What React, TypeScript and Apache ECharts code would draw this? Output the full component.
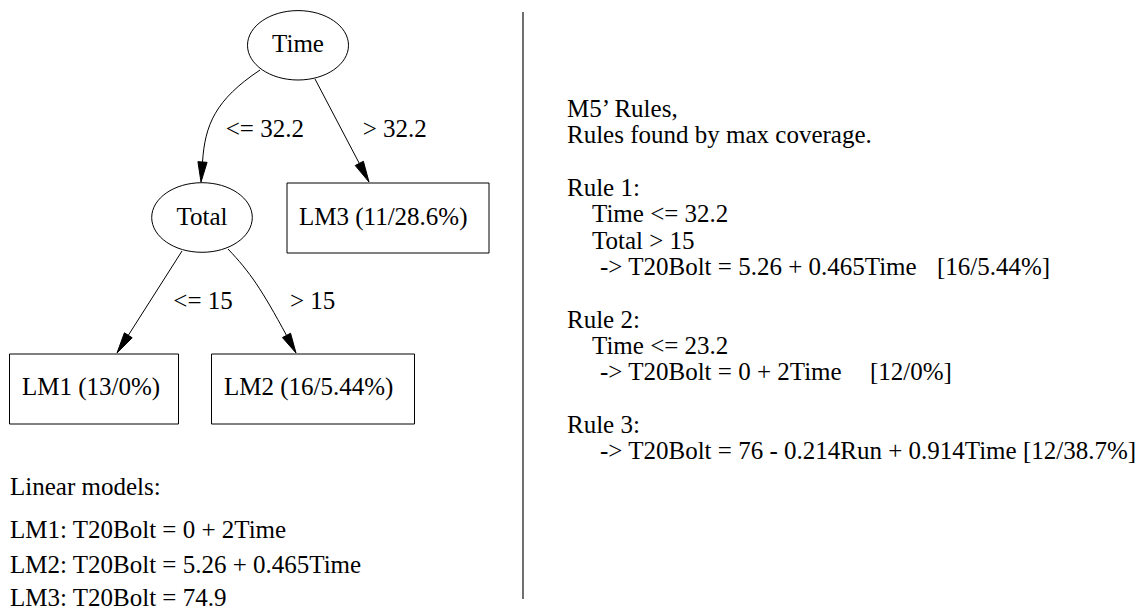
import React, { useEffect, useRef } from "react";
import * as echarts from "echarts";

// ---- content (text only) ----
const nodeLabels = ["Time", "Total", "LM3 (11/28.6%)", "LM1 (13/0%)", "LM2 (16/5.44%)"];
const nodeKinds = ["split", "split", "leaf", "leaf", "leaf"];
const edgeFrom = [0, 0, 1, 1];
const edgeTo = [1, 2, 3, 4];
const edgeLabels = ["<= 32.2", "> 32.2", "<= 15", "> 15"];
const linearModelsTitle = "Linear models:";
const linearModels = [
  "LM1: T20Bolt = 0 + 2Time",
  "LM2: T20Bolt = 5.26 + 0.465Time",
  "LM3: T20Bolt = 74.9",
];
const ruleLines = [
  "M5\u2019 Rules,",
  "Rules found by max coverage.",
  "",
  "Rule 1:",
  "Time <= 32.2",
  "Total > 15",
  "-> T20Bolt = 5.26 + 0.465Time",
  "",
  "Rule 2:",
  "Time <= 23.2",
  "-> T20Bolt = 0 + 2Time",
  "",
  "Rule 3:",
  "-> T20Bolt = 76 - 0.214Run + 0.914Time [12/38.7%]",
];
const ruleIndent = [0, 0, 0, 0, 1, 1, 2, 0, 0, 1, 2, 0, 0, 2];
const ruleTags = ["", "", "", "", "", "", "[16/5.44%]", "", "", "", "[12/0%]", "", "", ""];

// ---- layout (positions & sizes) ----
const FONT_SIZE = 25;
const FONT = `${FONT_SIZE}px "Liberation Serif", "Times New Roman", serif`;
const CENTRAL = 8.4; // baseline offset from central
const ellipseGeom = [
  { cx: 298, cy: 45.3, rx: 50.5, ry: 34.7 },
  { cx: 202, cy: 217.5, rx: 50.3, ry: 34.8 },
];
const nodeGeom = [
  { tx: 298, tb: 52, align: "center" },
  { tx: 202, tb: 225, align: "center" },
  { x: 287, y: 183, w: 202, h: 70, tx: 299, tb: 225, align: "left" },
  { x: 9.5, y: 354, w: 169, h: 70, tx: 22, tb: 395, align: "left" },
  { x: 211.5, y: 354, w: 203, h: 70, tx: 224, tb: 395, align: "left" },
];
// edge geometry: path points (line or cubic) ending at arrow base, then tip
const edgeGeom = [
  { pts: [[260, 70], [215, 100], [205, 125], [202.5, 162]], tip: [201, 182] },
  { pts: [[315, 79], [359.3, 163.4]], tip: [369, 182] },
  { pts: [[182, 251], [128.3, 335.3]], tip: [117, 353] },
  { pts: [[228, 249], [250, 272], [262, 290], [286.5, 335.4]], tip: [296, 353] },
];
const edgeLabelGeom = [
  { x: 225.7, b: 137 },
  { x: 362.7, b: 137 },
  { x: 173.3, b: 309 },
  { x: 290, b: 309 },
];
const lmTitleGeom = { x: 10, b: 495 };
const lmBaselines = [538, 573, 606];
const ruleStartBaseline = 117;
const ruleStep = 26.3;
const ruleIndentX = [567, 592, 600];
const ruleTagX = [0, 0, 0, 0, 0, 0, 937, 0, 0, 0, 870, 0, 0, 0];
const divider = { x: 523, y1: 12, y2: 599 };

function txt(text: string, x: number, baseline: number, align = "left") {
  return {
    type: "text",
    x,
    y: baseline - CENTRAL,
    silent: true,
    style: {
      text,
      font: FONT,
      fill: "#000",
      textAlign: align,
      textVerticalAlign: "middle",
    },
  };
}

function arrowHead(base: number[], tip: number[]) {
  const dx = tip[0] - base[0];
  const dy = tip[1] - base[1];
  const len = Math.hypot(dx, dy) || 1;
  const nx = -dy / len;
  const ny = dx / len;
  const hw = 4.6;
  return {
    type: "polygon",
    silent: true,
    shape: {
      points: [
        [tip[0], tip[1]],
        [base[0] + nx * hw, base[1] + ny * hw],
        [base[0] - nx * hw, base[1] - ny * hw],
      ],
    },
    style: { fill: "#000", stroke: "#000", lineWidth: 1 },
  };
}

function buildGraphics() {
  const els: any[] = [];
  // nodes
  nodeLabels.forEach((label, i) => {
    const g: any = nodeGeom[i];
    if (nodeKinds[i] === "split") {
      const e = ellipseGeom[i];
      els.push({
        type: "ellipse",
        silent: true,
        shape: { cx: e.cx, cy: e.cy, rx: e.rx, ry: e.ry },
        style: { fill: "none", stroke: "#000", lineWidth: 1 },
      });
    } else {
      els.push({
        type: "rect",
        silent: true,
        shape: { x: g.x, y: g.y, width: g.w, height: g.h },
        style: { fill: "none", stroke: "#000", lineWidth: 1 },
      });
    }
    els.push(txt(label, g.tx, g.tb, g.align));
  });
  // edges
  edgeFrom.forEach((_, i) => {
    const eg = edgeGeom[i];
    const p = eg.pts;
    if (p.length === 4) {
      els.push({
        type: "bezierCurve",
        silent: true,
        shape: {
          x1: p[0][0], y1: p[0][1],
          cpx1: p[1][0], cpy1: p[1][1],
          cpx2: p[2][0], cpy2: p[2][1],
          x2: p[3][0], y2: p[3][1],
        },
        style: { fill: "none", stroke: "#000", lineWidth: 1 },
      });
    } else {
      els.push({
        type: "line",
        silent: true,
        shape: { x1: p[0][0], y1: p[0][1], x2: p[1][0], y2: p[1][1] },
        style: { stroke: "#000", lineWidth: 1 },
      });
    }
    els.push(arrowHead(p[p.length - 1], eg.tip));
    els.push(txt(edgeLabels[i], edgeLabelGeom[i].x, edgeLabelGeom[i].b));
  });
  // linear models
  els.push(txt(linearModelsTitle, lmTitleGeom.x, lmTitleGeom.b));
  linearModels.forEach((m, i) => els.push(txt(m, lmTitleGeom.x, lmBaselines[i])));
  // divider
  els.push({
    type: "line",
    silent: true,
    shape: { x1: divider.x, y1: divider.y1, x2: divider.x, y2: divider.y2 },
    style: { stroke: "#333", lineWidth: 1.4 },
  });
  // rules
  ruleLines.forEach((line, i) => {
    const b = ruleStartBaseline + i * ruleStep;
    if (line) els.push(txt(line, ruleIndentX[ruleIndent[i]], b));
    if (ruleTags[i]) els.push(txt(ruleTags[i], ruleTagX[i], b));
  });
  return els;
}

export default function App() {
  const ref = useRef<HTMLDivElement>(null);
  useEffect(() => {
    document.body.style.margin = "0";
    const chart = echarts.init(ref.current!, null, { renderer: "svg" });
    chart.setOption({
      animation: false,
      backgroundColor: "#fff",
      graphic: { elements: buildGraphics() },
    });
    return () => chart.dispose();
  }, []);
  return (
    <div
      ref={ref}
      style={{ position: "absolute", left: 0, top: 0, width: 1144, height: 610 }}
    />
  );
}
